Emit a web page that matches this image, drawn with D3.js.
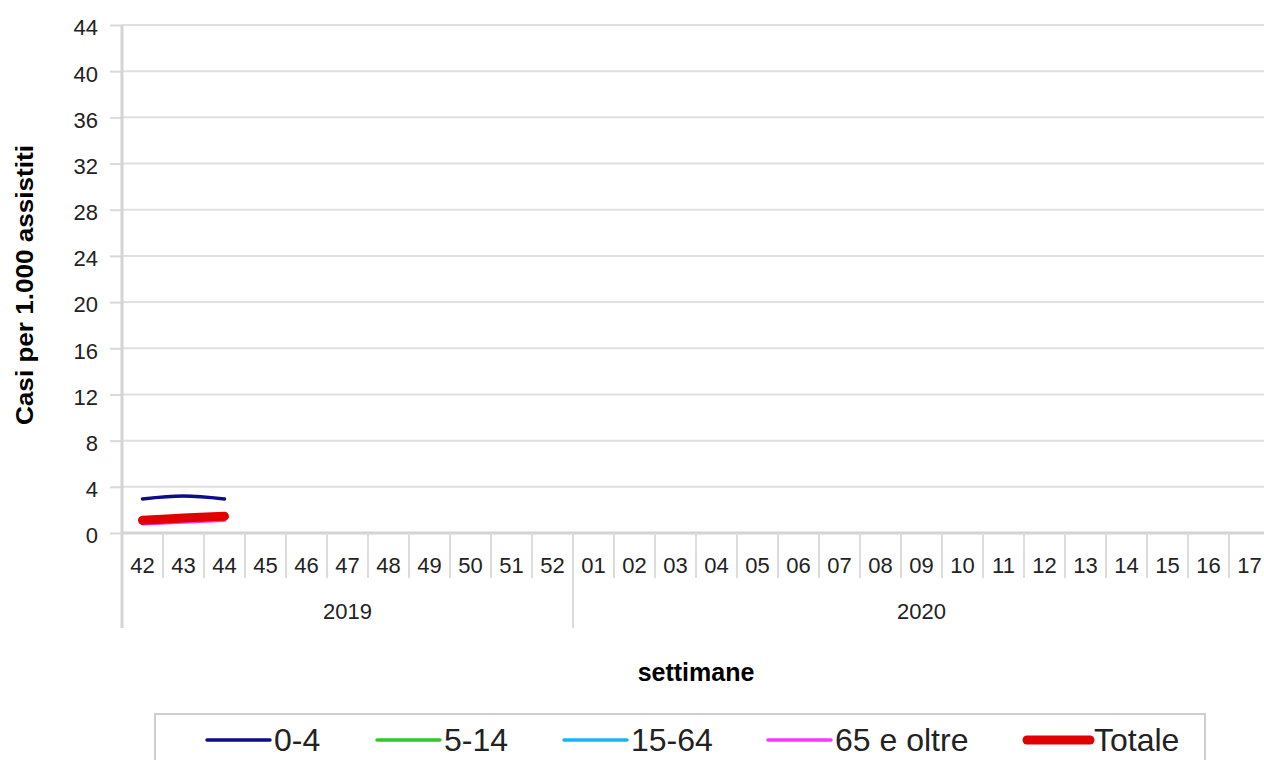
<!DOCTYPE html>
<html>
<head>
<meta charset="utf-8">
<script src="https://cdn.jsdelivr.net/npm/d3@7"></script>
<style>
  html, body { margin: 0; padding: 0; background: #fff; }
  svg { display: block; }
  text { font-family: "Liberation Sans", Arial, sans-serif; }
</style>
</head>
<body>
<div id="chart"></div>
<script>
// weeks shown on the x axis (season 2019-2020)
const weeks2019 = ["42", "43", "44", "45", "46", "47", "48", "49", "50", "51", "52"];
const weeks2020 = ["01", "02", "03", "04", "05", "06", "07", "08", "09", "10", "11", "12", "13", "14", "15", "16", "17"];
const years = ["2019", "2020"];
const yTicks = [0, 4, 8, 12, 16, 20, 24, 28, 32, 36, 40, 44];

// only the first weeks have data
const seriesNames = ["0-4", "5-14", "15-64", "65 e oltre", "Totale"];
const vals0_4 = [2.95, 3.2, 2.95];
const vals5_14 = [1.2, 1.35, 1.5];
const vals15_64 = [1.0, 1.2, 1.35];
const vals65 = [0.8, 0.95, 1.1];
const valsTot = [1.1, 1.3, 1.45];
const colors = ["#0d0d8a", "#2ec92e", "#1ab4f5", "#ff33ff", "#e00000"];

// the plot runs past the right edge of the picture, as in the original
const width = 1264, height = 760;
const margin = {top: 25, left: 122};
const innerWidth = 1148, innerHeight = 508;
const labelFont = 22;

const svg = d3.select("#chart")
  .append("svg")
    .attr("width", width)
    .attr("height", height);

const inner = svg.append("g")
  .attr("transform", `translate(${margin.left}, ${margin.top})`);

const cats = weeks2019.map(w => "2019-" + w).concat(weeks2020.map(w => "2020-" + w));

const xScale = d3.scaleBand()
  .domain(cats)
  .range([0, innerWidth]);

const yScale = d3.scaleLinear()
  .domain([0, 44])
  .range([innerHeight, 0]);

// gridlines
inner.selectAll(".grid")
  .data(yTicks.filter(t => t > 0))
  .join("line")
    .attr("x1", 0)
    .attr("x2", innerWidth)
    .attr("y1", d => yScale(d))
    .attr("y2", d => yScale(d))
    .attr("stroke", "#e0e0e0")
    .attr("stroke-width", 2);

// left axis
const leftAxis = d3.axisLeft(yScale)
  .tickValues(yTicks)
  .tickSize(12)
  .tickPadding(12);

const gy = inner.append("g").call(leftAxis);
gy.select(".domain").remove();
gy.selectAll(".tick line").attr("stroke", "#d9d9d9").attr("stroke-width", 2);
gy.selectAll(".tick text")
  .attr("font-size", labelFont)
  .attr("fill", "#222")
  .attr("dy", "0.45em")
  .attr("font-family", "Liberation Sans, Arial, sans-serif");
inner.append("line")
  .attr("x1", 0).attr("x2", 0)
  .attr("y1", yScale(44)).attr("y2", innerHeight)
  .attr("stroke", "#d4d4d4").attr("stroke-width", 3);

// bottom axis
const bottomAxis = d3.axisBottom(xScale)
  .tickSize(0)
  .tickPadding(24)
  .tickFormat(d => d.slice(5));

const gx = inner.append("g")
  .attr("transform", `translate(0, ${innerHeight})`)
  .call(bottomAxis);
gx.select(".domain").remove();
gx.selectAll(".tick text")
  .attr("font-size", labelFont)
  .attr("fill", "#222")
  .attr("font-family", "Liberation Sans, Arial, sans-serif");

inner.append("line")
  .attr("x1", 0).attr("x2", innerWidth)
  .attr("y1", innerHeight).attr("y2", innerHeight)
  .attr("stroke", "#d4d4d4").attr("stroke-width", 3);

// category separators
inner.selectAll(".sep")
  .data(cats.slice(1))
  .join("line")
    .attr("x1", d => xScale(d))
    .attr("x2", d => xScale(d))
    .attr("y1", innerHeight)
    .attr("y2", d => d === "2020-01" ? innerHeight + 95 : innerHeight + 45)
    .attr("stroke", "#dcdcdc")
    .attr("stroke-width", 2);

inner.append("line")
  .attr("x1", 0).attr("x2", 0)
  .attr("y1", innerHeight).attr("y2", innerHeight + 95)
  .attr("stroke", "#d4d4d4").attr("stroke-width", 3);

// year labels
const yearSpans = [
  [xScale("2019-42"), xScale("2019-52") + xScale.bandwidth()],
  [xScale("2020-01"), xScale("2020-17") + xScale.bandwidth()]
];
inner.selectAll(".year")
  .data(years)
  .join("text")
    .attr("x", (d, i) => (yearSpans[i][0] + yearSpans[i][1]) / 2)
    .attr("y", innerHeight + 86)
    .attr("text-anchor", "middle")
    .attr("font-size", labelFont)
    .attr("fill", "#222")
    .text(d => d);

// axis titles
svg.append("text")
  .attr("x", margin.left + innerWidth / 2)
  .attr("y", 681)
  .attr("text-anchor", "middle")
  .attr("font-size", 25)
  .attr("font-weight", "bold")
  .text("settimane");

svg.append("text")
  .attr("transform", `translate(33, 285) rotate(-90)`)
  .attr("text-anchor", "middle")
  .attr("font-size", 24)
  .attr("font-weight", "bold")
  .attr("textLength", 280)
  .attr("lengthAdjust", "spacingAndGlyphs")
  .text("Casi per 1.000 assistiti");

// lines
const allVals = [vals0_4, vals5_14, vals15_64, vals65, valsTot];
const lineGen = d3.line()
  .x((d, i) => xScale(cats[i]) + xScale.bandwidth() / 2)
  .y(d => yScale(d))
  .curve(d3.curveCardinal);

const drawOrder = [1, 2, 3, 4, 0];
drawOrder.forEach(k => {
  inner.append("path")
    .datum(allVals[k])
    .attr("fill", "none")
    .attr("stroke", colors[k])
    .attr("stroke-width", k === 4 ? 9 : 3.5)
    .attr("stroke-linecap", "round")
    .attr("d", lineGen);
});

// legend
const legend = svg.append("g");
legend.append("rect")
  .attr("x", 155).attr("y", 714)
  .attr("width", 1050).attr("height", 60)
  .attr("fill", "#fff")
  .attr("stroke", "#cfcfcf")
  .attr("stroke-width", 2);

const legendX = [207, 377, 564, 768, 1027];
const items = legend.selectAll(".item")
  .data(seriesNames)
  .join("g")
    .attr("transform", (d, i) => `translate(${legendX[i]}, 740)`);
items.append("line")
  .attr("x1", 0).attr("x2", 63)
  .attr("stroke", (d, i) => colors[i])
  .attr("stroke-width", (d, i) => i === 4 ? 9 : 3.5)
  .attr("stroke-linecap", "round");
items.append("text")
  .attr("x", 67)
  .attr("y", 11)
  .attr("font-size", 32)
  .attr("fill", "#222")
  .text(d => d);
</script>
</body>
</html>
